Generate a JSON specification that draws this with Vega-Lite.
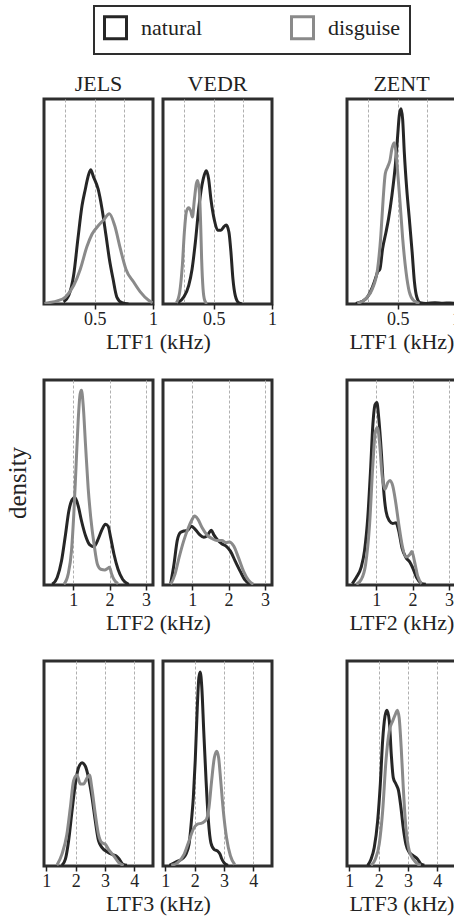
{
  "$schema": "https://vega.github.io/schema/vega-lite/v6.json",
  "padding": {"left": 3, "top": 5, "right": -5, "bottom": 0},
  "background": "white",
  "config": {
    "font": "Liberation Serif, Times New Roman, Times, serif",
    "view": {"stroke": "#2e2e2e", "strokeWidth": 3},
    "axis": {
      "labelFont": "Liberation Serif, Times New Roman, Times, serif", "labelFontSize": 18, "labelColor": "#222222",
      "labelFlush": false, "labelOverlap": false, "labelPadding": 1,
      "tickColor": "#222222", "tickSize": 5, "tickWidth": 1.5,
      "domain": false,
      "gridColor": "#b0b0b0", "gridDash": [3, 2], "gridWidth": 1,
      "titleFont": "Liberation Serif, Times New Roman, Times, serif", "titleFontSize": 22, "titleFontWeight": "normal", "titleColor": "#222222", "titlePadding": 3
    },
    "title": {"font": "Liberation Serif, Times New Roman, Times, serif", "fontSize": 22, "fontWeight": "normal", "color": "#222222", "offset": 3},
    "legend": {
      "labelFont": "Liberation Serif, Times New Roman, Times, serif", "labelFontSize": 22, "labelColor": "#222222"
    }
  },
  "datasets": {
    "j1": [
      {"voice":"natural","khz":0.234,"density":0.1},{"voice":"natural","khz":0.277,"density":0.4},{"voice":"natural","khz":0.32,"density":1.4},{"voice":"natural","khz":0.357,"density":3.2},{"voice":"natural","khz":0.392,"density":4.8},{"voice":"natural","khz":0.42,"density":5.6},{"voice":"natural","khz":0.443,"density":6.2},{"voice":"natural","khz":0.466,"density":6.55},{"voice":"natural","khz":0.49,"density":6.2},{"voice":"natural","khz":0.53,"density":5.6},{"voice":"natural","khz":0.563,"density":4.65},{"voice":"natural","khz":0.597,"density":3.35},{"voice":"natural","khz":0.626,"density":2.2},{"voice":"natural","khz":0.657,"density":1.24},{"voice":"natural","khz":0.69,"density":0.34},{"voice":"natural","khz":0.734,"density":0.06},{"voice":"natural","khz":0.79,"density":0},
      {"voice":"disguise","khz":0.07,"density":0.02},{"voice":"disguise","khz":0.106,"density":0.06},{"voice":"disguise","khz":0.18,"density":0.15},{"voice":"disguise","khz":0.249,"density":0.34},{"voice":"disguise","khz":0.32,"density":0.9},{"voice":"disguise","khz":0.377,"density":1.7},{"voice":"disguise","khz":0.434,"density":2.8},{"voice":"disguise","khz":0.477,"density":3.4},{"voice":"disguise","khz":0.534,"density":3.84},{"voice":"disguise","khz":0.577,"density":4.1},{"voice":"disguise","khz":0.626,"density":4.4},{"voice":"disguise","khz":0.671,"density":3.84},{"voice":"disguise","khz":0.72,"density":2.7},{"voice":"disguise","khz":0.768,"density":1.7},{"voice":"disguise","khz":0.834,"density":1.07},{"voice":"disguise","khz":0.891,"density":0.59},{"voice":"disguise","khz":0.962,"density":0.18},{"voice":"disguise","khz":0.997,"density":0.06}
    ],
    "v1": [
      {"voice":"natural","khz":0.192,"density":0.06},{"voice":"natural","khz":0.244,"density":0.34},{"voice":"natural","khz":0.286,"density":0.9},{"voice":"natural","khz":0.315,"density":1.7},{"voice":"natural","khz":0.343,"density":3.0},{"voice":"natural","khz":0.372,"density":4.65},{"voice":"natural","khz":0.4,"density":5.8},{"voice":"natural","khz":0.42,"density":6.3},{"voice":"natural","khz":0.437,"density":6.5},{"voice":"natural","khz":0.457,"density":6.1},{"voice":"natural","khz":0.477,"density":5.1},{"voice":"natural","khz":0.506,"density":4.1},{"voice":"natural","khz":0.534,"density":3.6},{"voice":"natural","khz":0.563,"density":3.6},{"voice":"natural","khz":0.585,"density":3.75},{"voice":"natural","khz":0.608,"density":3.85},{"voice":"natural","khz":0.631,"density":3.5},{"voice":"natural","khz":0.648,"density":2.54},{"voice":"natural","khz":0.665,"density":1.24},{"voice":"natural","khz":0.685,"density":0.42},{"voice":"natural","khz":0.714,"density":0.06},{"voice":"natural","khz":0.742,"density":0},
      {"voice":"disguise","khz":0.181,"density":0.06},{"voice":"disguise","khz":0.209,"density":0.58},{"voice":"disguise","khz":0.232,"density":1.9},{"voice":"disguise","khz":0.249,"density":3.5},{"voice":"disguise","khz":0.266,"density":4.5},{"voice":"disguise","khz":0.286,"density":4.7},{"voice":"disguise","khz":0.306,"density":4.5},{"voice":"disguise","khz":0.318,"density":4.24},{"voice":"disguise","khz":0.335,"density":5.1},{"voice":"disguise","khz":0.352,"density":5.87},{"voice":"disguise","khz":0.363,"density":6.03},{"voice":"disguise","khz":0.378,"density":5.46},{"voice":"disguise","khz":0.389,"density":3.84},{"voice":"disguise","khz":0.397,"density":2.2},{"voice":"disguise","khz":0.409,"density":0.75},{"voice":"disguise","khz":0.423,"density":0.18},{"voice":"disguise","khz":0.443,"density":0}
    ],
    "z1": [
      {"voice":"natural","khz":0.141,"density":0.03},{"voice":"natural","khz":0.198,"density":0.13},{"voice":"natural","khz":0.241,"density":0.34},{"voice":"natural","khz":0.284,"density":0.83},{"voice":"natural","khz":0.313,"density":1.3},{"voice":"natural","khz":0.328,"density":1.56},{"voice":"natural","khz":0.348,"density":1.7},{"voice":"natural","khz":0.371,"density":2.7},{"voice":"natural","khz":0.4,"density":3.5},{"voice":"natural","khz":0.422,"density":4.16},{"voice":"natural","khz":0.451,"density":5.3},{"voice":"natural","khz":0.48,"density":6.76},{"voice":"natural","khz":0.5,"density":8.2},{"voice":"natural","khz":0.514,"density":9.2},{"voice":"natural","khz":0.529,"density":9.53},{"voice":"natural","khz":0.543,"density":9.0},{"voice":"natural","khz":0.557,"density":7.4},{"voice":"natural","khz":0.578,"density":5.6},{"voice":"natural","khz":0.6,"density":4.16},{"voice":"natural","khz":0.624,"density":2.54},{"voice":"natural","khz":0.644,"density":1.07},{"voice":"natural","khz":0.664,"density":0.34},{"voice":"natural","khz":0.693,"density":0.06},{"voice":"natural","khz":0.744,"density":0.03},{"voice":"natural","khz":0.82,"density":0.06},{"voice":"natural","khz":0.888,"density":0.04},{"voice":"natural","khz":0.95,"density":0.05},{"voice":"natural","khz":1.0,"density":0.03},
      {"voice":"disguise","khz":0.155,"density":0.03},{"voice":"disguise","khz":0.227,"density":0.26},{"voice":"disguise","khz":0.284,"density":0.75},{"voice":"disguise","khz":0.328,"density":1.7},{"voice":"disguise","khz":0.356,"density":3.35},{"voice":"disguise","khz":0.376,"density":5.14},{"voice":"disguise","khz":0.394,"density":6.36},{"voice":"disguise","khz":0.414,"density":6.68},{"voice":"disguise","khz":0.434,"density":7.0},{"voice":"disguise","khz":0.451,"density":7.58},{"voice":"disguise","khz":0.471,"density":7.87},{"voice":"disguise","khz":0.486,"density":7.4},{"voice":"disguise","khz":0.5,"density":6.44},{"voice":"disguise","khz":0.52,"density":5.0},{"voice":"disguise","khz":0.543,"density":3.2},{"voice":"disguise","khz":0.572,"density":1.56},{"voice":"disguise","khz":0.6,"density":0.59},{"voice":"disguise","khz":0.635,"density":0.18},{"voice":"disguise","khz":0.687,"density":0.03}
    ],
    "j2": [
      {"voice":"natural","khz":0.425,"density":0.01},{"voice":"natural","khz":0.562,"density":0.11},{"voice":"natural","khz":0.68,"density":0.35},{"voice":"natural","khz":0.79,"density":0.74},{"voice":"natural","khz":0.88,"density":1.08},{"voice":"natural","khz":0.973,"density":1.25},{"voice":"natural","khz":1.046,"density":1.28},{"voice":"natural","khz":1.137,"density":1.16},{"voice":"natural","khz":1.228,"density":0.94},{"voice":"natural","khz":1.34,"density":0.72},{"voice":"natural","khz":1.45,"density":0.59},{"voice":"natural","khz":1.566,"density":0.56},{"voice":"natural","khz":1.7,"density":0.69},{"voice":"natural","khz":1.79,"density":0.81},{"voice":"natural","khz":1.886,"density":0.89},{"voice":"natural","khz":1.96,"density":0.86},{"voice":"natural","khz":2.03,"density":0.69},{"voice":"natural","khz":2.12,"density":0.45},{"voice":"natural","khz":2.23,"density":0.23},{"voice":"natural","khz":2.36,"density":0.08},{"voice":"natural","khz":2.525,"density":0.01},
      {"voice":"disguise","khz":0.744,"density":0.01},{"voice":"disguise","khz":0.863,"density":0.16},{"voice":"disguise","khz":0.954,"density":0.5},{"voice":"disguise","khz":1.018,"density":1.04},{"voice":"disguise","khz":1.082,"density":1.77},{"voice":"disguise","khz":1.137,"density":2.4},{"voice":"disguise","khz":1.19,"density":2.79},{"voice":"disguise","khz":1.228,"density":2.85},{"voice":"disguise","khz":1.274,"density":2.64},{"voice":"disguise","khz":1.338,"density":2.06},{"voice":"disguise","khz":1.41,"density":1.43},{"voice":"disguise","khz":1.484,"density":0.98},{"voice":"disguise","khz":1.575,"density":0.59},{"voice":"disguise","khz":1.667,"density":0.3},{"voice":"disguise","khz":1.758,"density":0.23},{"voice":"disguise","khz":1.868,"density":0.22},{"voice":"disguise","khz":1.94,"density":0.24},{"voice":"disguise","khz":1.995,"density":0.26},{"voice":"disguise","khz":2.05,"density":0.17},{"voice":"disguise","khz":2.12,"density":0.08},{"voice":"disguise","khz":2.23,"density":0.02}
    ],
    "v2": [
      {"voice":"natural","khz":0.41,"density":0.02},{"voice":"natural","khz":0.5,"density":0.3},{"voice":"natural","khz":0.59,"density":0.65},{"voice":"natural","khz":0.68,"density":0.77},{"voice":"natural","khz":0.77,"density":0.79},{"voice":"natural","khz":0.87,"density":0.8},{"voice":"natural","khz":0.98,"density":0.86},{"voice":"natural","khz":1.09,"density":0.81},{"voice":"natural","khz":1.2,"density":0.74},{"voice":"natural","khz":1.32,"density":0.7},{"voice":"natural","khz":1.41,"density":0.72},{"voice":"natural","khz":1.47,"density":0.77},{"voice":"natural","khz":1.527,"density":0.8},{"voice":"natural","khz":1.6,"density":0.73},{"voice":"natural","khz":1.71,"density":0.65},{"voice":"natural","khz":1.82,"density":0.6},{"voice":"natural","khz":1.93,"density":0.57},{"voice":"natural","khz":2.045,"density":0.5},{"voice":"natural","khz":2.18,"density":0.35},{"voice":"natural","khz":2.32,"density":0.2},{"voice":"natural","khz":2.455,"density":0.07},{"voice":"natural","khz":2.59,"density":0.01},
      {"voice":"disguise","khz":0.41,"density":0.01},{"voice":"disguise","khz":0.53,"density":0.16},{"voice":"disguise","khz":0.64,"density":0.4},{"voice":"disguise","khz":0.77,"density":0.65},{"voice":"disguise","khz":0.89,"density":0.83},{"voice":"disguise","khz":0.98,"density":0.94},{"voice":"disguise","khz":1.07,"density":1.01},{"voice":"disguise","khz":1.16,"density":0.96},{"voice":"disguise","khz":1.27,"density":0.84},{"voice":"disguise","khz":1.41,"density":0.73},{"voice":"disguise","khz":1.545,"density":0.68},{"voice":"disguise","khz":1.68,"density":0.65},{"voice":"disguise","khz":1.82,"density":0.65},{"voice":"disguise","khz":1.93,"density":0.62},{"voice":"disguise","khz":2.02,"density":0.63},{"voice":"disguise","khz":2.14,"density":0.57},{"voice":"disguise","khz":2.27,"density":0.4},{"voice":"disguise","khz":2.41,"density":0.2},{"voice":"disguise","khz":2.545,"density":0.07},{"voice":"disguise","khz":2.68,"density":0.01}
    ],
    "z2": [
      {"voice":"natural","khz":0.345,"density":0.02},{"voice":"natural","khz":0.455,"density":0.11},{"voice":"natural","khz":0.59,"density":0.26},{"voice":"natural","khz":0.68,"density":0.5},{"voice":"natural","khz":0.77,"density":0.99},{"voice":"natural","khz":0.845,"density":1.67},{"voice":"natural","khz":0.91,"density":2.35},{"voice":"natural","khz":0.97,"density":2.64},{"voice":"natural","khz":1.02,"density":2.67},{"voice":"natural","khz":1.07,"density":2.45},{"voice":"natural","khz":1.14,"density":1.96},{"voice":"natural","khz":1.2,"density":1.43},{"voice":"natural","khz":1.27,"density":1.08},{"voice":"natural","khz":1.36,"density":0.94},{"voice":"natural","khz":1.455,"density":0.9},{"voice":"natural","khz":1.545,"density":0.91},{"voice":"natural","khz":1.62,"density":0.79},{"voice":"natural","khz":1.71,"density":0.54},{"voice":"natural","khz":1.82,"density":0.4},{"voice":"natural","khz":1.93,"density":0.33},{"voice":"natural","khz":2.02,"density":0.23},{"voice":"natural","khz":2.11,"density":0.11},{"voice":"natural","khz":2.23,"density":0.03},{"voice":"natural","khz":2.36,"density":0.01},
      {"voice":"disguise","khz":0.455,"density":0.01},{"voice":"disguise","khz":0.59,"density":0.08},{"voice":"disguise","khz":0.71,"density":0.3},{"voice":"disguise","khz":0.82,"density":0.89},{"voice":"disguise","khz":0.91,"density":1.77},{"voice":"disguise","khz":0.98,"density":2.25},{"voice":"disguise","khz":1.036,"density":2.3},{"voice":"disguise","khz":1.09,"density":2.1},{"voice":"disguise","khz":1.16,"density":1.62},{"voice":"disguise","khz":1.236,"density":1.4},{"voice":"disguise","khz":1.32,"density":1.5},{"voice":"disguise","khz":1.38,"density":1.53},{"voice":"disguise","khz":1.455,"density":1.45},{"voice":"disguise","khz":1.53,"density":1.23},{"voice":"disguise","khz":1.62,"density":0.89},{"voice":"disguise","khz":1.71,"density":0.59},{"voice":"disguise","khz":1.82,"density":0.41},{"voice":"disguise","khz":1.93,"density":0.45},{"voice":"disguise","khz":1.98,"density":0.49},{"voice":"disguise","khz":2.05,"density":0.35},{"voice":"disguise","khz":2.14,"density":0.13},{"voice":"disguise","khz":2.25,"density":0.02}
    ],
    "j3": [
      {"voice":"natural","khz":1.53,"density":0.01},{"voice":"natural","khz":1.65,"density":0.1},{"voice":"natural","khz":1.76,"density":0.37},{"voice":"natural","khz":1.875,"density":0.8},{"voice":"natural","khz":1.99,"density":1.2},{"voice":"natural","khz":2.1,"density":1.44},{"voice":"natural","khz":2.22,"density":1.51},{"voice":"natural","khz":2.33,"density":1.46},{"voice":"natural","khz":2.44,"density":1.29},{"voice":"natural","khz":2.56,"density":1.0},{"voice":"natural","khz":2.67,"density":0.66},{"voice":"natural","khz":2.78,"density":0.37},{"voice":"natural","khz":2.9,"density":0.27},{"voice":"natural","khz":3.07,"density":0.21},{"voice":"natural","khz":3.24,"density":0.17},{"voice":"natural","khz":3.375,"density":0.15},{"voice":"natural","khz":3.49,"density":0.1},{"voice":"natural","khz":3.6,"density":0.03},{"voice":"natural","khz":3.75,"density":0.01},
      {"voice":"disguise","khz":1.36,"density":0.01},{"voice":"disguise","khz":1.53,"density":0.17},{"voice":"disguise","khz":1.7,"density":0.46},{"voice":"disguise","khz":1.82,"density":0.86},{"voice":"disguise","khz":1.93,"density":1.25},{"voice":"disguise","khz":2.045,"density":1.33},{"voice":"disguise","khz":2.16,"density":1.2},{"voice":"disguise","khz":2.27,"density":1.2},{"voice":"disguise","khz":2.39,"density":1.29},{"voice":"disguise","khz":2.47,"density":1.33},{"voice":"disguise","khz":2.56,"density":1.12},{"voice":"disguise","khz":2.67,"density":0.76},{"voice":"disguise","khz":2.78,"density":0.46},{"voice":"disguise","khz":2.9,"density":0.34},{"voice":"disguise","khz":3.01,"density":0.32},{"voice":"disguise","khz":3.125,"density":0.24},{"voice":"disguise","khz":3.3,"density":0.15},{"voice":"disguise","khz":3.47,"density":0.05},{"voice":"disguise","khz":3.64,"density":0.01}
    ],
    "v3": [
      {"voice":"natural","khz":1.14,"density":0.01},{"voice":"natural","khz":1.37,"density":0.06},{"voice":"natural","khz":1.59,"density":0.11},{"voice":"natural","khz":1.7,"density":0.17},{"voice":"natural","khz":1.81,"density":0.32},{"voice":"natural","khz":1.89,"density":0.66},{"voice":"natural","khz":1.955,"density":1.0},{"voice":"natural","khz":2.02,"density":1.54},{"voice":"natural","khz":2.09,"density":2.32},{"voice":"natural","khz":2.145,"density":2.76},{"voice":"natural","khz":2.19,"density":2.84},{"voice":"natural","khz":2.245,"density":2.61},{"voice":"natural","khz":2.31,"density":1.98},{"voice":"natural","khz":2.39,"density":1.25},{"voice":"natural","khz":2.47,"density":0.66},{"voice":"natural","khz":2.555,"density":0.34},{"voice":"natural","khz":2.67,"density":0.24},{"voice":"natural","khz":2.78,"density":0.22},{"voice":"natural","khz":2.87,"density":0.17},{"voice":"natural","khz":2.92,"density":0.11},{"voice":"natural","khz":3.0,"density":0.05},{"voice":"natural","khz":3.14,"density":0.01},
      {"voice":"disguise","khz":1.2,"density":0.01},{"voice":"disguise","khz":1.42,"density":0.05},{"voice":"disguise","khz":1.64,"density":0.17},{"voice":"disguise","khz":1.81,"density":0.37},{"voice":"disguise","khz":1.955,"density":0.54},{"voice":"disguise","khz":2.09,"density":0.61},{"voice":"disguise","khz":2.255,"density":0.63},{"voice":"disguise","khz":2.4,"density":0.68},{"voice":"disguise","khz":2.49,"density":0.86},{"voice":"disguise","khz":2.58,"density":1.25},{"voice":"disguise","khz":2.67,"density":1.58},{"voice":"disguise","khz":2.755,"density":1.68},{"voice":"disguise","khz":2.82,"density":1.58},{"voice":"disguise","khz":2.89,"density":1.25},{"voice":"disguise","khz":2.98,"density":0.8},{"voice":"disguise","khz":3.09,"density":0.41},{"voice":"disguise","khz":3.22,"density":0.15},{"voice":"disguise","khz":3.37,"density":0.02}
    ],
    "z3": [
      {"voice":"natural","khz":1.625,"density":0.01},{"voice":"natural","khz":1.74,"density":0.1},{"voice":"natural","khz":1.85,"density":0.27},{"voice":"natural","khz":1.966,"density":0.66},{"voice":"natural","khz":2.057,"density":1.2},{"voice":"natural","khz":2.136,"density":1.83},{"voice":"natural","khz":2.216,"density":2.19},{"voice":"natural","khz":2.284,"density":2.28},{"voice":"natural","khz":2.364,"density":2.12},{"voice":"natural","khz":2.43,"density":1.64},{"voice":"natural","khz":2.5,"density":1.29},{"voice":"natural","khz":2.59,"density":1.2},{"voice":"natural","khz":2.68,"density":1.1},{"voice":"natural","khz":2.76,"density":0.86},{"voice":"natural","khz":2.84,"density":0.56},{"voice":"natural","khz":2.93,"density":0.32},{"voice":"natural","khz":3.045,"density":0.2},{"voice":"natural","khz":3.18,"density":0.15},{"voice":"natural","khz":3.33,"density":0.1},{"voice":"natural","khz":3.44,"density":0.03},{"voice":"natural","khz":3.56,"density":0.01},
      {"voice":"disguise","khz":1.74,"density":0.01},{"voice":"disguise","khz":1.886,"density":0.1},{"voice":"disguise","khz":2.02,"density":0.32},{"voice":"disguise","khz":2.136,"density":0.8},{"voice":"disguise","khz":2.25,"density":1.54},{"voice":"disguise","khz":2.364,"density":1.98},{"voice":"disguise","khz":2.477,"density":2.12},{"voice":"disguise","khz":2.57,"density":2.22},{"voice":"disguise","khz":2.636,"density":2.28},{"voice":"disguise","khz":2.7,"density":2.17},{"voice":"disguise","khz":2.77,"density":1.73},{"voice":"disguise","khz":2.84,"density":1.15},{"voice":"disguise","khz":2.93,"density":0.56},{"voice":"disguise","khz":3.045,"density":0.22},{"voice":"disguise","khz":3.18,"density":0.1},{"voice":"disguise","khz":3.33,"density":0.03},{"voice":"disguise","khz":3.44,"density":0.01}
    ],
    "none": []
  },
  "columns": 4,
  "spacing": {"row": 76, "column": 10},
  "bounds": "flush",
  "concat": [
    {
      "width": 109, "height": 205, "title": "JELS",
      "data": {"name": "j1"},
      "mark": {"type": "line", "interpolate": "monotone", "strokeWidth": 3, "clip": true},
      "encoding": {
        "x": {"field": "khz", "type": "quantitative", "scale": {"domain": [0.066, 1.0], "nice": false, "zero": false},
          "axis": {"title": "LTF1 (kHz)", "titleX": 114, "values": [0.25, 0.5, 0.75, 1],
            "labelExpr": "datum.value == 0.5 ? '0.5' : datum.value == 1 ? '1' : ''",
            "tickOpacity": {"condition": {"test": "datum.value == 0.5 || datum.value == 1", "value": 1}, "value": 0},
            "gridOpacity": {"condition": {"test": "datum.value == 1", "value": 0}, "value": 1}}},
        "y": {"field": "density", "type": "quantitative", "scale": {"domain": [0, 10], "nice": false}, "axis": null},
        "color": {"field": "voice", "type": "nominal", "scale": {"domain": ["natural", "disguise"], "range": ["#262626", "#8a8a8a"]},
          "legend": {"orient": "none", "legendX": 50, "legendY": -93, "direction": "horizontal", "title": null,
            "symbolType": "square", "symbolSize": 484, "symbolStrokeWidth": 3, "symbolFillColor": "white",
            "labelFont": "Liberation Serif, Times New Roman, Times, serif", "labelFontSize": 22, "labelOffset": 13, "columnPadding": 82, "padding": 9,
            "strokeColor": "#2e2e2e",
            "encode": {"legend": {"update": {"strokeWidth": {"value": 2}}}}}}
      }
    },
    {
      "width": 109, "height": 205, "title": "VEDR",
      "data": {"name": "v1"},
      "mark": {"type": "line", "interpolate": "monotone", "strokeWidth": 3, "clip": true},
      "encoding": {
        "x": {"field": "khz", "type": "quantitative", "scale": {"domain": [0.066, 1.0], "nice": false, "zero": false},
          "axis": {"title": null, "values": [0.25, 0.5, 0.75, 1],
            "labelExpr": "datum.value == 0.5 ? '0.5' : datum.value == 1 ? '1' : ''",
            "tickOpacity": {"condition": {"test": "datum.value == 0.5 || datum.value == 1", "value": 1}, "value": 0},
            "gridOpacity": {"condition": {"test": "datum.value == 1", "value": 0}, "value": 1}}},
        "y": {"field": "density", "type": "quantitative", "scale": {"domain": [0, 10], "nice": false}, "axis": null},
        "color": {"field": "voice", "type": "nominal"}
      }
    },
    {
      "width": 55, "height": 205, "view": {"stroke": null},
      "data": {"name": "none"},
      "mark": "point"
    },
    {
      "width": 109, "height": 205, "title": "ZENT",
      "data": {"name": "z1"},
      "mark": {"type": "line", "interpolate": "monotone", "strokeWidth": 3, "clip": true},
      "encoding": {
        "x": {"field": "khz", "type": "quantitative", "scale": {"domain": [0.066, 1.0], "nice": false, "zero": false},
          "axis": {"title": "LTF1 (kHz)", "values": [0.25, 0.5, 0.75, 1],
            "labelExpr": "datum.value == 0.5 ? '0.5' : datum.value == 1 ? '1' : ''",
            "tickOpacity": {"condition": {"test": "datum.value == 0.5 || datum.value == 1", "value": 1}, "value": 0},
            "gridOpacity": {"condition": {"test": "datum.value == 1", "value": 0}, "value": 1}}},
        "y": {"field": "density", "type": "quantitative", "scale": {"domain": [0, 10], "nice": false}, "axis": null},
        "color": {"field": "voice", "type": "nominal"}
      }
    },
    {
      "width": 109, "height": 205,
      "data": {"name": "j2"},
      "mark": {"type": "line", "interpolate": "monotone", "strokeWidth": 3, "clip": true},
      "encoding": {
        "x": {"field": "khz", "type": "quantitative", "scale": {"domain": [0.2, 3.19], "nice": false, "zero": false},
          "axis": {"title": "LTF2 (kHz)", "titleX": 114, "values": [1, 2, 3]}},
        "y": {"field": "density", "type": "quantitative", "scale": {"domain": [0, 3], "nice": false},
          "axis": {"title": "density", "labels": false, "ticks": false, "grid": false, "titlePadding": 14, "titleFontSize": 25}},
        "color": {"field": "voice", "type": "nominal"}
      }
    },
    {
      "width": 109, "height": 205,
      "data": {"name": "v2"},
      "mark": {"type": "line", "interpolate": "monotone", "strokeWidth": 3, "clip": true},
      "encoding": {
        "x": {"field": "khz", "type": "quantitative", "scale": {"domain": [0.2, 3.19], "nice": false, "zero": false},
          "axis": {"title": null, "values": [1, 2, 3]}},
        "y": {"field": "density", "type": "quantitative", "scale": {"domain": [0, 3], "nice": false}, "axis": null},
        "color": {"field": "voice", "type": "nominal"}
      }
    },
    {
      "width": 55, "height": 205, "view": {"stroke": null},
      "data": {"name": "none"},
      "mark": "point"
    },
    {
      "width": 109, "height": 205,
      "data": {"name": "z2"},
      "mark": {"type": "line", "interpolate": "monotone", "strokeWidth": 3, "clip": true},
      "encoding": {
        "x": {"field": "khz", "type": "quantitative", "scale": {"domain": [0.2, 3.19], "nice": false, "zero": false},
          "axis": {"title": "LTF2 (kHz)", "values": [1, 2, 3]}},
        "y": {"field": "density", "type": "quantitative", "scale": {"domain": [0, 3], "nice": false}, "axis": null},
        "color": {"field": "voice", "type": "nominal"}
      }
    },
    {
      "width": 109, "height": 205,
      "data": {"name": "j3"},
      "mark": {"type": "line", "interpolate": "monotone", "strokeWidth": 3, "clip": true},
      "encoding": {
        "x": {"field": "khz", "type": "quantitative", "scale": {"domain": [0.92, 4.64], "nice": false, "zero": false},
          "axis": {"title": "LTF3 (kHz)", "titleX": 114, "values": [1, 2, 3, 4],
            "gridOpacity": {"condition": {"test": "datum.value == 1", "value": 0}, "value": 1}}},
        "y": {"field": "density", "type": "quantitative", "scale": {"domain": [0, 3], "nice": false}, "axis": null},
        "color": {"field": "voice", "type": "nominal"}
      }
    },
    {
      "width": 109, "height": 205,
      "data": {"name": "v3"},
      "mark": {"type": "line", "interpolate": "monotone", "strokeWidth": 3, "clip": true},
      "encoding": {
        "x": {"field": "khz", "type": "quantitative", "scale": {"domain": [0.92, 4.64], "nice": false, "zero": false},
          "axis": {"title": null, "values": [1, 2, 3, 4],
            "gridOpacity": {"condition": {"test": "datum.value == 1", "value": 0}, "value": 1}}},
        "y": {"field": "density", "type": "quantitative", "scale": {"domain": [0, 3], "nice": false}, "axis": null},
        "color": {"field": "voice", "type": "nominal"}
      }
    },
    {
      "width": 55, "height": 205, "view": {"stroke": null},
      "data": {"name": "none"},
      "mark": "point"
    },
    {
      "width": 109, "height": 205,
      "data": {"name": "z3"},
      "mark": {"type": "line", "interpolate": "monotone", "strokeWidth": 3, "clip": true},
      "encoding": {
        "x": {"field": "khz", "type": "quantitative", "scale": {"domain": [0.92, 4.64], "nice": false, "zero": false},
          "axis": {"title": "LTF3 (kHz)", "values": [1, 2, 3, 4],
            "gridOpacity": {"condition": {"test": "datum.value == 1", "value": 0}, "value": 1}}},
        "y": {"field": "density", "type": "quantitative", "scale": {"domain": [0, 3], "nice": false}, "axis": null},
        "color": {"field": "voice", "type": "nominal"}
      }
    }
  ]
}
